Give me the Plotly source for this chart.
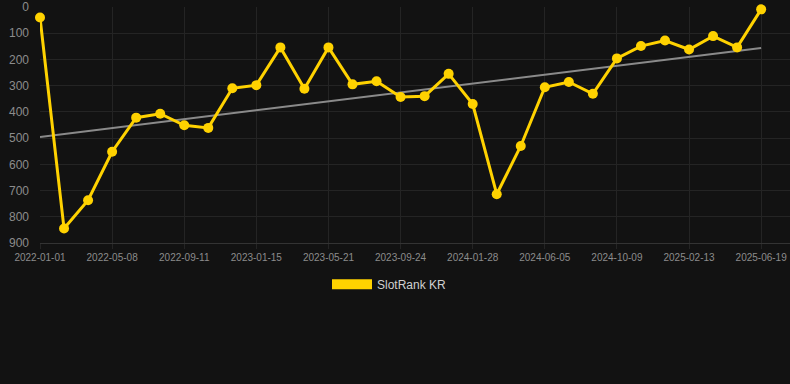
import numpy as np
import plotly.graph_objects as go

dates = [
    "2022-01-01", "2022-02-12", "2022-03-26", "2022-05-08", "2022-06-19", "2022-07-31",
    "2022-09-11", "2022-10-23", "2022-12-04", "2023-01-15", "2023-02-26", "2023-04-09",
    "2023-05-21", "2023-07-02", "2023-08-13", "2023-09-24", "2023-11-05", "2023-12-17",
    "2024-01-28", "2024-03-10", "2024-04-23", "2024-06-05", "2024-07-17", "2024-08-28",
    "2024-10-09", "2024-11-20", "2025-01-01", "2025-02-13", "2025-03-27", "2025-05-08",
    "2025-06-19",
]
ranks = [
    40, 845, 737, 552, 422, 407, 451, 461, 310, 298, 154,
    312, 154, 295, 283, 343, 340, 255, 370, 714, 530,
    306, 286, 331, 196, 149, 128, 162, 111, 154, 9,
]
tick_labels = dates[::3]
y_ticks = [0, 100, 200, 300, 400, 500, 600, 700, 800, 900]
series_name = "SlotRank KR"

GOLD = "#FFD200"
BG = "#121212"

idx = np.arange(len(ranks))
slope, intercept = np.polyfit(idx, ranks, 1)
trend = [intercept, intercept + slope * idx[-1]]

fig = go.Figure()
fig.add_trace(go.Scatter(
    x=dates, y=ranks, mode="lines+markers", name=series_name,
    line=dict(color=GOLD, width=3), marker=dict(color=GOLD, size=10),
    showlegend=False, cliponaxis=False,
))
fig.add_trace(go.Scatter(
    x=[dates[0], dates[-1]], y=trend, mode="lines",
    line=dict(color="#8a8a8a", width=2), showlegend=False, hoverinfo="skip",
))
# draw main series on top of trend line
fig.data = (fig.data[1], fig.data[0])
fig.add_trace(go.Scatter(
    x=[None], y=[None], mode="lines", name=series_name,
    line=dict(color=GOLD, width=12), showlegend=True,
))

fig.update_layout(
    width=790, height=384,
    margin=dict(l=40, r=0, t=7, b=141),
    paper_bgcolor=BG, plot_bgcolor=BG,
    font=dict(family="Liberation Sans, Arial, sans-serif", color="#8c8c8c", size=11),
    showlegend=True,
    legend=dict(
        orientation="h", x=0.466, xanchor="center", y=-0.113, yanchor="top",
        font=dict(color="#d0d0d0", size=12), itemwidth=40,
        bgcolor="rgba(0,0,0,0)",
    ),
    xaxis=dict(
        type="category", categoryorder="array", categoryarray=dates,
        range=[0, 31.2],
        tickmode="array", tickvals=tick_labels, ticktext=tick_labels,
        showgrid=True, gridcolor="#242424", gridwidth=1,
        ticks="outside", ticklen=5, tickcolor="#242424",
        showline=True, linecolor="#333333", linewidth=1,
        tickfont=dict(size=10, color="#8c8c8c"),
        zeroline=False,
    ),
    yaxis=dict(
        range=[900, 0], tickmode="array", tickvals=y_ticks,
        showgrid=True, gridcolor="#242424", gridwidth=1,
        zeroline=False, tickfont=dict(size=12, color="#8c8c8c"),
        ticks="", ticklabelstandoff=10,
    ),
)

fig.write_html(
    "out.html",
    config={"displayModeBar": False},
    post_script="document.body.style.margin='0';document.body.style.background='#121212';",
)
